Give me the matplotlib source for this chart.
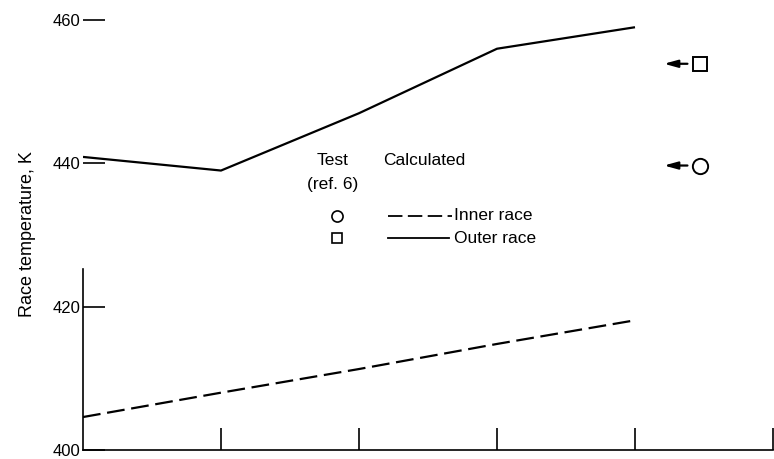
import numpy as np
import matplotlib
matplotlib.use('Agg')
import matplotlib.pyplot as plt

plt.rcParams['font.family'] = ['Liberation Sans Narrow', 'Liberation Sans', 'DejaVu Sans']

# data
stations = [0, 1, 2, 3, 4]
outer_calc = [440.9, 439.0, 447.0, 456.0, 459.0]
inner_calc = [404.6, 408.0, 411.3, 414.8, 418.1]
test_x = 4.47
outer_test = 453.9
inner_test = 439.7
yticks = [400, 420, 440, 460]
xticks = [1, 2, 3, 4, 5]

fig = plt.figure(figsize=(7.74, 4.59), dpi=100)
ax = fig.add_axes([83 / 774, 9 / 459, 690 / 774, 450 / 459])

ax.plot(stations, outer_calc, color='black', lw=1.6, solid_capstyle='butt')
ax.plot(stations, inner_calc, color='black', lw=1.6, linestyle=(0, (8, 3)))

# test points with arrows
ax.plot(test_x, outer_test, 's', ms=10, mfc='white', mec='black', mew=1.4)
ax.plot(test_x, inner_test, 'o', ms=11, mfc='white', mec='black', mew=1.4)
for yv in [outer_test, inner_test]:
    ax.annotate('', xy=(4.21, yv), xytext=(4.38, yv),
                arrowprops=dict(arrowstyle='-|>,head_length=0.8,head_width=0.22',
                                color='black', lw=1.6, shrinkA=0, shrinkB=0))

ax.set_xlim(0, 5)
ax.set_ylim(400, 462.8)
ax.set_yticks(yticks)
ax.set_xticks(xticks)
ax.set_xticklabels([])
ax.tick_params(axis='y', direction='in', length=16, width=1.2, pad=2, labelsize=12)
ax.tick_params(axis='x', direction='in', length=16, width=1.2)
for s in ['top', 'right']:
    ax.spines[s].set_visible(False)
ax.spines['left'].set_bounds(400, 425.2)
ax.spines['left'].set_linewidth(1.2)
ax.spines['bottom'].set_linewidth(1.2)

ax.set_ylabel('Race temperature, K', fontsize=13)
ax.yaxis.set_label_coords(-0.068, 0.48)

# key
tr = ax.transAxes
fs = 12.5
ax.text(0.362, 0.643, 'Test', ha='center', va='center', fontsize=fs, transform=tr)
ax.text(0.362, 0.590, '(ref. 6)', ha='center', va='center', fontsize=fs, transform=tr)
ax.text(0.435, 0.643, 'Calculated', ha='left', va='center', fontsize=fs, transform=tr)
ax.plot([0.368], [0.521], 'o', ms=8, mfc='white', mec='black', mew=1.2, transform=tr)
ax.plot([0.368], [0.472], 's', ms=7.5, mfc='white', mec='black', mew=1.2, transform=tr)
ax.plot([0.442, 0.535], [0.521, 0.521], color='black', lw=1.3, linestyle=(0, (8, 3)), transform=tr)
ax.plot([0.442, 0.530], [0.472, 0.472], color='black', lw=1.3, transform=tr)
ax.text(0.537, 0.521, 'Inner race', ha='left', va='center', fontsize=fs, transform=tr)
ax.text(0.537, 0.469, 'Outer race', ha='left', va='center', fontsize=fs, transform=tr)

fig.savefig('out.png', dpi=100)
